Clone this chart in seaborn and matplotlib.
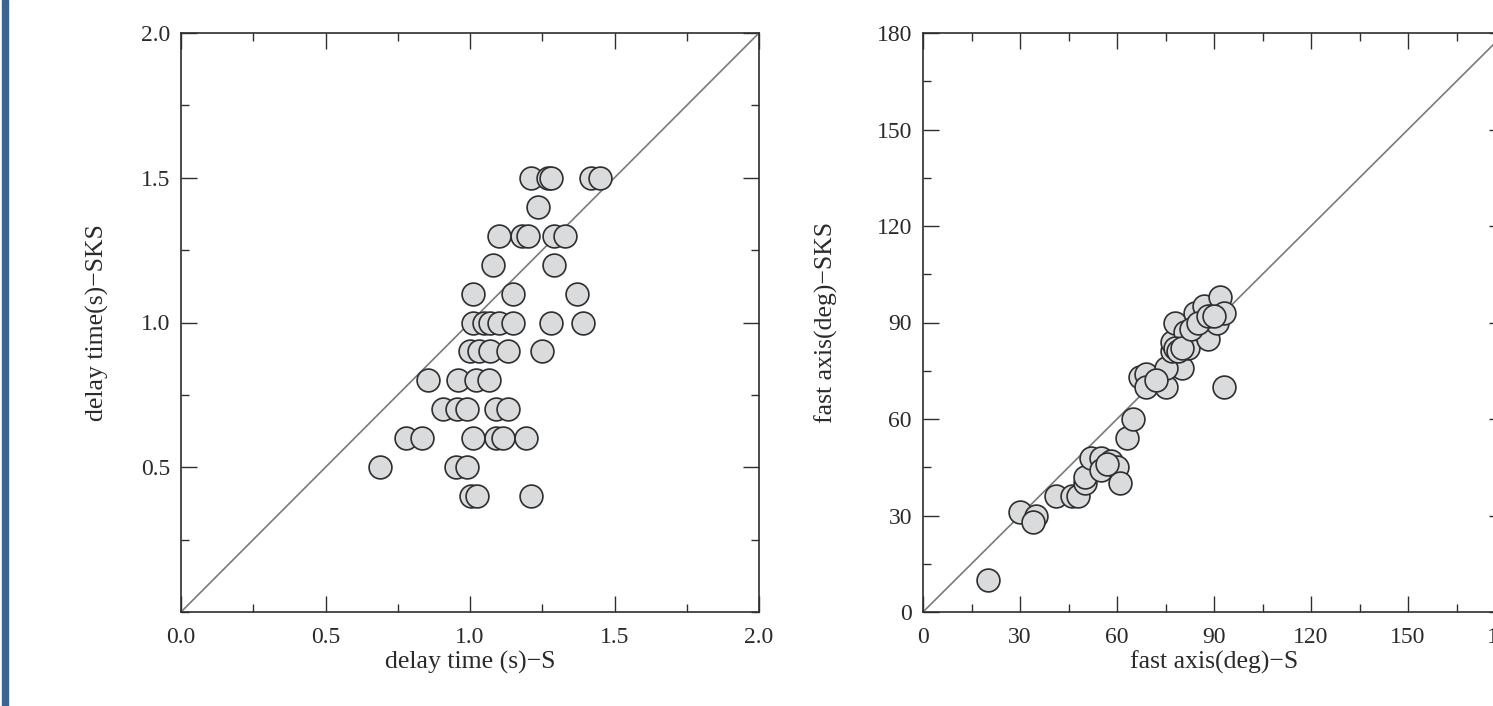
import numpy as np
import pandas as pd
import seaborn as sns
import matplotlib
matplotlib.use("Agg")
import matplotlib.pyplot as plt
from matplotlib.patches import Rectangle
from matplotlib.ticker import MultipleLocator

# delay time: S vs SKS (s)
delay_s = [1.21, 1.27, 1.28, 1.42, 1.45,
           1.235,
           1.10, 1.18, 1.20, 1.29, 1.33,
           1.08, 1.29,
           1.01, 1.15, 1.37,
           1.01, 1.05, 1.07, 1.10, 1.15, 1.28, 1.39,
           1.00, 1.03, 1.07, 1.13, 1.25,
           0.855, 0.96, 1.02, 1.065,
           0.905, 0.955, 0.99, 1.09, 1.13,
           0.78, 0.835, 1.01, 1.09, 1.115, 1.195,
           0.69, 0.95, 0.99,
           1.005, 1.025, 1.21]
delay_sks = [1.5, 1.5, 1.5, 1.5, 1.5,
             1.4,
             1.3, 1.3, 1.3, 1.3, 1.3,
             1.2, 1.2,
             1.1, 1.1, 1.1,
             1.0, 1.0, 1.0, 1.0, 1.0, 1.0, 1.0,
             0.9, 0.9, 0.9, 0.9, 0.9,
             0.8, 0.8, 0.8, 0.8,
             0.7, 0.7, 0.7, 0.7, 0.7,
             0.6, 0.6, 0.6, 0.6, 0.6, 0.6,
             0.5, 0.5, 0.5,
             0.4, 0.4, 0.4]

# fast axis: S vs SKS (deg)
fast_s = [20, 30, 35, 34, 41, 46, 48, 50, 50, 52, 55, 55, 58, 60, 61, 57,
          63, 65, 67, 69, 69, 75, 80, 75, 77, 77, 78, 81, 82, 84, 87, 86,
          88, 89, 91, 92, 93, 93, 78, 79, 80, 83, 85, 88, 90, 72]
fast_sks = [10, 31, 30, 28, 36, 36, 36, 40, 42, 48, 48, 44, 47, 45, 40, 46,
            54, 60, 73, 74, 70, 70, 76, 76, 81, 84, 90, 87, 82, 93, 95, 90,
            85, 92, 90, 98, 93, 70, 82, 81, 82, 88, 90, 92, 92, 72]

df_delay = pd.DataFrame({"s": delay_s, "sks": delay_sks})
df_fast = pd.DataFrame({"s": fast_s, "sks": fast_sks})

sns.set_style("ticks")
plt.rcParams["font.family"] = ["Liberation Serif", "DejaVu Serif"]

W, H = 1493, 706
fig = plt.figure(figsize=(W / 100, H / 100), dpi=100)

ax1 = fig.add_axes([181 / W, 1 - 612 / H, 578 / W, 579 / H])
ax2 = fig.add_axes([923 / W, 1 - 612 / H, 582 / W, 579 / H])

edge = "#2e2e2e"
face = "#dadbdd"
txt = "#2a2a2a"

panels = [
    (ax1, df_delay, (0, 2.0), 0.5, 0.25, "delay time (s)\u2212S", "delay time(s)\u2212SKS", 23),
    (ax2, df_fast, (0, 180), 30, 15, "fast axis(deg)\u2212S", "fast axis(deg)\u2212SKS", 28),
]

for ax, df, lim, major, minor, xl, yl, ypad in panels:
    ax.axline((0, 0), slope=1, color="#7a7a7a", lw=1.2, zorder=1)
    sns.scatterplot(data=df, x="s", y="sks", ax=ax, s=270, color=face,
                    edgecolor=edge, linewidth=1.2, zorder=3, legend=False)
    ax.set_xlim(*lim)
    ax.set_ylim(*lim)
    ax.xaxis.set_major_locator(MultipleLocator(major))
    ax.yaxis.set_major_locator(MultipleLocator(major))
    ax.xaxis.set_minor_locator(MultipleLocator(minor))
    ax.yaxis.set_minor_locator(MultipleLocator(minor))
    ax.tick_params(which="both", direction="in", top=True, right=True,
                   color=edge, width=1.0, labelsize=17, labelcolor=txt)
    ax.tick_params(which="major", length=11.5)
    ax.tick_params(axis="x", which="major", pad=11)
    ax.tick_params(axis="y", which="major", pad=8)
    ax.tick_params(which="minor", length=5.8)
    for sp in ax.spines.values():
        sp.set_color(edge)
        sp.set_linewidth(1.2)
    ax.set_xlabel(xl, fontsize=18.5, color=txt, labelpad=2)
    ax.set_ylabel(yl, fontsize=18.5, color=txt, labelpad=ypad)

# left plot: no label at y = 0
ax1.set_xticks([0, 0.5, 1.0, 1.5, 2.0])
ax1.set_xticklabels(["0.0", "0.5", "1.0", "1.5", "2.0"])
ax1.set_yticks([0.5, 1.0, 1.5, 2.0])
ax1.set_yticklabels(["0.5", "1.0", "1.5", "2.0"])
ax2.set_xticks(range(0, 181, 30))
ax2.set_yticks(range(0, 181, 30))

# blue bar at the left edge
fig.patches.append(Rectangle((2 / W, 0), 6 / W, 1, transform=fig.transFigure,
                             color="#3d6390", zorder=0))

fig.savefig("out.png", dpi=100)
